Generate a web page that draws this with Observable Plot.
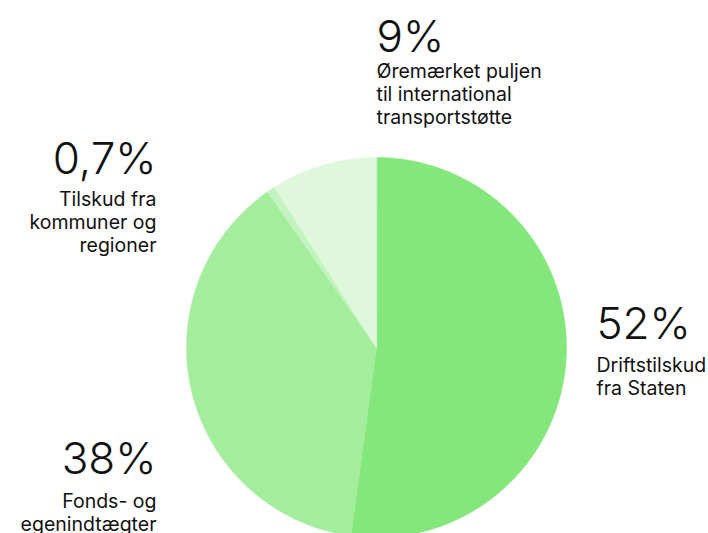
<!DOCTYPE html>
<html>
<head>
<meta charset="utf-8">
<script src="https://cdn.jsdelivr.net/npm/d3@7"></script>
<script src="https://cdn.jsdelivr.net/npm/@observablehq/plot@0.6"></script>
<style>
  html, body { margin: 0; padding: 0; background: #fff; }
  #chart { width: 708px; height: 533px; overflow: hidden; }
</style>
</head>
<body>
<div id="chart"></div>
<script>
// Data
const categories = ["Driftstilskud fra Staten", "Fonds- og egenindtægter", "Tilskud fra kommuner og regioner", "Øremærket puljen til international transportstøtte"];
const percentLabels = ["52%", "38%", "0,7%", "9%"];
const values = [52, 38, 0.7, 9];
const descLabels = ["Driftstilskud\nfra Staten", "Fonds- og\negenindtægter", "Tilskud fra\nkommuner og\nregioner", "Øremærket puljen\ntil international\ntransportstøtte"];
const colors = ["#84e77c", "#a4ed9d", "#c3f3be", "#dff8dc"];

// Layout (not data)
const W = 708, H = 533;
const cx = 376, cy = 347, R = 190;
const labelLayout = [
  {x: 596, numBase: 338, descBase: 371, anchor: "start"},
  {x: 156, numBase: 473, descBase: 507, anchor: "end"},
  {x: 156, numBase: 173, descBase: 205, anchor: "end"},
  {x: 376, numBase: 51, descBase: 77, anchor: "start"}
];
const numSize = 44, txtSize = 19.5, lineH = 1.2;

// Build slice polygons from values
const total = d3.sum(values);
const piePts = [];
let acc = 0;
values.forEach((v, i) => {
  const a0 = acc / total * 2 * Math.PI;
  acc += v;
  const a1 = acc / total * 2 * Math.PI;
  const n = Math.max(2, Math.ceil((a1 - a0) / (Math.PI / 360)));
  piePts.push({cat: categories[i], x: cx, y: cy});
  for (let k = 0; k <= n; k++) {
    const a = a0 + (a1 - a0) * k / n;
    piePts.push({cat: categories[i], x: cx + R * Math.sin(a), y: cy - R * Math.cos(a)});
  }
});

const labels = categories.map((c, i) => ({
  cat: c,
  pct: percentLabels[i],
  desc: descLabels[i],
  ...labelLayout[i]
}));

const chart = Plot.plot({
  width: W,
  height: H,
  margin: 0,
  style: {fontFamily: "Inter, 'Liberation Sans', sans-serif", background: "#fff", overflow: "hidden"},
  x: {domain: [0, W], range: [0, W], axis: null},
  y: {domain: [0, H], range: [0, H], axis: null},
  color: {domain: categories, range: colors},
  marks: [
    Plot.line(piePts, {x: "x", y: "y", z: "cat", fill: "cat", stroke: "cat", strokeWidth: 0.5, curve: "linear-closed"}),
    ...["start", "end"].map(anc => Plot.text(labels.filter(d => d.anchor === anc), {
      x: "x", y: d => d.numBase - 0.71 * numSize, text: "pct",
      textAnchor: anc, lineAnchor: "top", fontSize: numSize, fontWeight: 300, fill: "#111"
    })),
    ...["start", "end"].map(anc => Plot.text(labels.filter(d => d.anchor === anc), {
      x: "x", y: d => d.descBase - 0.71 * lineH * txtSize, text: "desc",
      textAnchor: anc, lineAnchor: "top", lineHeight: lineH, fontSize: txtSize, fontWeight: 400, fill: "#111"
    }))
  ]
});
document.getElementById("chart").appendChild(chart);
</script>
</body>
</html>
